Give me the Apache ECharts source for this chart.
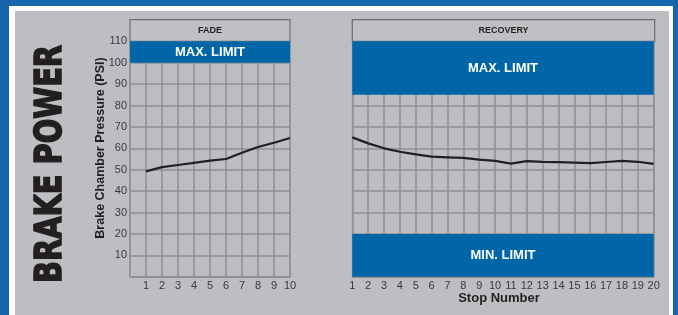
<!DOCTYPE html>
<html>
<head>
<meta charset="utf-8">
<script src="https://cdn.jsdelivr.net/npm/echarts@6/dist/echarts.min.js"></script>
<style>
  html, body { margin: 0; padding: 0; }
  body { width: 678px; height: 315px; background: #1565ad; position: relative; overflow: hidden; }
  .white { position: absolute; left: 9px; top: 6px; width: 664px; height: 309px; background: #ffffff; }
  .gray { position: absolute; left: 15px; top: 11px; width: 654px; height: 304px; background: #bdbec1; }
  #myChart { position: absolute; left: 0; top: 0; width: 678px; height: 315px; }
</style>
</head>
<body>
<div class="white"></div>
<div class="gray"></div>
<div id="myChart"></div>
<script>
// stop numbers and pressures (PSI)
const fadeStops = [1, 2, 3, 4, 5, 6, 7, 8, 9, 10];
const fadePsi = [49.2, 51.2, 52.2, 53.2, 54.2, 55.0, 57.9, 60.6, 62.6, 64.8];
const recoveryStops = [1, 2, 3, 4, 5, 6, 7, 8, 9, 10, 11, 12, 13, 14, 15, 16, 17, 18, 19, 20];
const recoveryPsi = [65.1, 62.3, 60.0, 58.4, 57.2, 56.1, 55.8, 55.5, 54.7, 54.1, 52.8, 54.0, 53.7, 53.5, 53.3, 53.1, 53.6, 54.1, 53.7, 52.7];
// limit bands [from, to]
const fadeMax = [100, 110];
const recoveryMax = [85, 110];
const recoveryMin = [0, 20];

const blue = '#0066a8';
const gridGray = '#8e8f92';
const ink = '#231f20';

let chartDom = document.getElementById('myChart');
let myChart = echarts.init(chartDom);

function band(range, name) {
    return [{ yAxis: range[0], name: name }, { yAxis: range[1] }];
}

const bandLabel = {
    show: true,
    position: 'inside',
    color: '#ffffff',
    fontWeight: 'bold',
    fontSize: 13,
    fontFamily: 'Liberation Sans, Arial, sans-serif'
};

let option = {
    backgroundColor: 'transparent',
    animation: false,
    grid: [
        { left: 130, top: 41.3, width: 160, height: 235.4, show: true, borderColor: gridGray, borderWidth: 1 },
        { left: 352.3, top: 41.3, width: 301.4, height: 235.4, show: true, borderColor: gridGray, borderWidth: 1 }
    ],
    xAxis: [
        {
            gridIndex: 0, type: 'value', min: 0, max: 10, interval: 1,
            axisLine: { lineStyle: { color: gridGray, width: 1.5 } },
            axisTick: { show: false },
            axisLabel: {
                margin: 4, fontSize: 11, color: '#3a3a3a',
                fontFamily: 'Liberation Sans, Arial, sans-serif',
                formatter: v => v === 0 ? '' : v
            },
            splitLine: { show: true, lineStyle: { color: gridGray, width: 1.5 } }
        },
        {
            gridIndex: 1, type: 'value', min: 1, max: 20, interval: 1,
            axisLine: { lineStyle: { color: gridGray, width: 1.5 } },
            axisTick: { show: false },
            axisLabel: {
                margin: 4, fontSize: 11, color: '#3a3a3a',
                fontFamily: 'Liberation Sans, Arial, sans-serif'
            },
            splitLine: { show: true, lineStyle: { color: gridGray, width: 1.5 } }
        }
    ],
    yAxis: [
        {
            gridIndex: 0, type: 'value', min: 0, max: 110, interval: 10,
            axisLine: { show: false },
            axisTick: { show: false },
            axisLabel: {
                margin: 3, fontSize: 11, color: '#3a3a3a',
                fontFamily: 'Liberation Sans, Arial, sans-serif',
                formatter: v => v === 0 ? '' : v
            },
            splitLine: { show: true, lineStyle: { color: gridGray, width: 1.5 } }
        },
        {
            gridIndex: 1, type: 'value', min: 0, max: 110, interval: 10,
            axisLine: { show: false },
            axisTick: { show: false },
            axisLabel: { show: false },
            splitLine: { show: true, lineStyle: { color: gridGray, width: 1.5 } }
        }
    ],
    series: [
        {
            name: 'Fade', type: 'line', xAxisIndex: 0, yAxisIndex: 0,
            data: fadeStops.map((s, i) => [s, fadePsi[i]]),
            showSymbol: false,
            lineStyle: { color: ink, width: 2.2 },
            z: 5,
            markArea: {
                silent: true,
                itemStyle: { color: blue, opacity: 1 },
                label: bandLabel,
                data: [band(fadeMax, 'MAX. LIMIT')]
            }
        },
        {
            name: 'Recovery', type: 'line', xAxisIndex: 1, yAxisIndex: 1,
            data: recoveryStops.map((s, i) => [s, recoveryPsi[i]]),
            showSymbol: false,
            lineStyle: { color: ink, width: 2.2 },
            z: 5,
            markArea: {
                silent: true,
                itemStyle: { color: blue, opacity: 1 },
                label: bandLabel,
                data: [band(recoveryMax, 'MAX. LIMIT'), band(recoveryMin, 'MIN. LIMIT')]
            }
        }
    ],
    graphic: [
        // panel headers
        { type: 'rect', shape: { x: 130, y: 19.7, width: 160, height: 21.6 },
          style: { fill: '#bfc0c3', stroke: '#6d6e71', lineWidth: 1.2 } },
        { type: 'text', x: 210, y: 30.5,
          style: { text: 'FADE', fill: ink, font: 'bold 9px Liberation Sans, Arial, sans-serif', textAlign: 'center', textVerticalAlign: 'middle' } },
        { type: 'rect', shape: { x: 352.3, y: 19.7, width: 302.4, height: 21.6 },
          style: { fill: '#bfc0c3', stroke: '#6d6e71', lineWidth: 1.2 } },
        { type: 'text', x: 503.5, y: 30.5,
          style: { text: 'RECOVERY', fill: ink, font: 'bold 9px Liberation Sans, Arial, sans-serif', textAlign: 'center', textVerticalAlign: 'middle' } },
        // axis titles
        { type: 'text', x: 101, y: 148, rotation: Math.PI / 2,
          style: { text: 'Brake Chamber Pressure (PSI)', fill: ink, font: 'bold 12.5px Liberation Sans, Arial, sans-serif', textAlign: 'center', textVerticalAlign: 'middle' } },
        { type: 'text', x: 499, y: 298,
          style: { text: 'Stop Number', fill: ink, font: 'bold 13px Liberation Sans, Arial, sans-serif', textAlign: 'center', textVerticalAlign: 'middle' } },
        // big side title
        { type: 'text', x: 51, y: 164, rotation: Math.PI / 2, scaleX: 0.78,
          style: { text: 'BRAKE POWER', fill: ink, stroke: ink, lineWidth: 1.6, font: '900 37px DejaVu Sans, Liberation Sans, sans-serif', textAlign: 'center', textVerticalAlign: 'middle' } }
    ]
};

option && myChart.setOption(option);
</script>
</body>
</html>
